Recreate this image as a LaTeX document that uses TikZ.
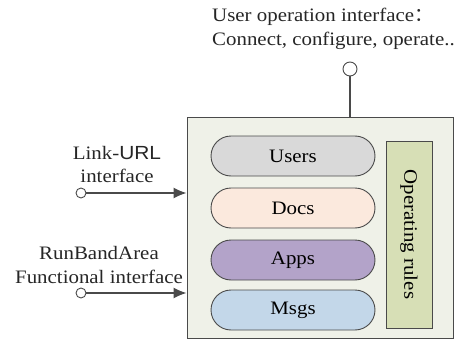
\documentclass[tikz,border=0pt]{standalone}
\usepackage{fontspec}
\setmainfont{Liberation Serif}[FakeStretch=1.1]
\newfontfamily\sansf{Liberation Sans}[FakeStretch=1.1]
\newfontfamily\cjk{Noto Sans CJK SC}
\usetikzlibrary{arrows.meta}
\definecolor{linec}{HTML}{4A4A4A}
\definecolor{outerfill}{HTML}{EFF1E8}
\definecolor{cusers}{HTML}{D9D9D9}
\definecolor{cdocs}{HTML}{FBE9DD}
\definecolor{capps}{HTML}{B3A3C9}
\definecolor{cmsgs}{HTML}{C3D7E9}
\definecolor{crules}{HTML}{D7DFB6}
\tikzset{
  pill/.style={draw=linec, line width=0.9pt, rounded corners=20pt, minimum width=164pt, minimum height=40pt, inner sep=0pt},
  port/.style={circle, draw=linec, line width=0.9pt, fill=white, minimum size=10pt, inner sep=0pt},
  wire/.style={draw=linec, line width=1.2pt},
  lbl/.style={align=center, inner sep=0pt, text=black!85}
}
\begin{document}
\begin{tikzpicture}[x=1pt, y=-1pt, font=\fontsize{19}{23.5}\selectfont]
\useasboundingbox (0,0) rectangle (456,340);
\node[draw=linec, line width=1pt, fill=outerfill, minimum width=266pt, minimum height=221pt, inner sep=0pt] (outer) at (320,227.5) {};
\node[pill, fill=cusers] (users) at (293,156) {Users};
\node[pill, fill=cdocs] (docs) at (293,208) {Docs};
\node[pill, fill=capps] (apps) at (293,260) {Apps};
\node[pill, fill=cmsgs] (msgs) at (293,310) {Msgs};
\node[draw=linec, line width=0.9pt, fill=crules, minimum width=46pt, minimum height=187pt, inner sep=0pt] (rules) at (409,234.5) {};
\node[rotate=-90, inner sep=0pt] (rulestext) at (rules.center) {Operating rules};
\node[port, minimum size=14pt] (topc) at (350,69) {};
\draw[wire] (topc) -- (topc |- outer.north);
\node[lbl, align=left, anchor=west] (toplabel) at (212,29) {User operation interface{\cjk ：}\\Connect, configure, operate..};
\node[port] (lc1) at (81,193) {};
\draw[wire, -{Latex[length=13pt,width=11pt]}] (lc1) -- (lc1 -| outer.west);
\node[port] (lc2) at (81,293) {};
\draw[wire, -{Latex[length=13pt,width=11pt]}] (lc2) -- (lc2 -| outer.west);
\node[lbl] (l1) at (117,164.5) {Link-{\sansf URL}\\interface};
\node[lbl] (l2) at (99,265) {RunBandArea\\Functional interface};
\end{tikzpicture}
\end{document}
